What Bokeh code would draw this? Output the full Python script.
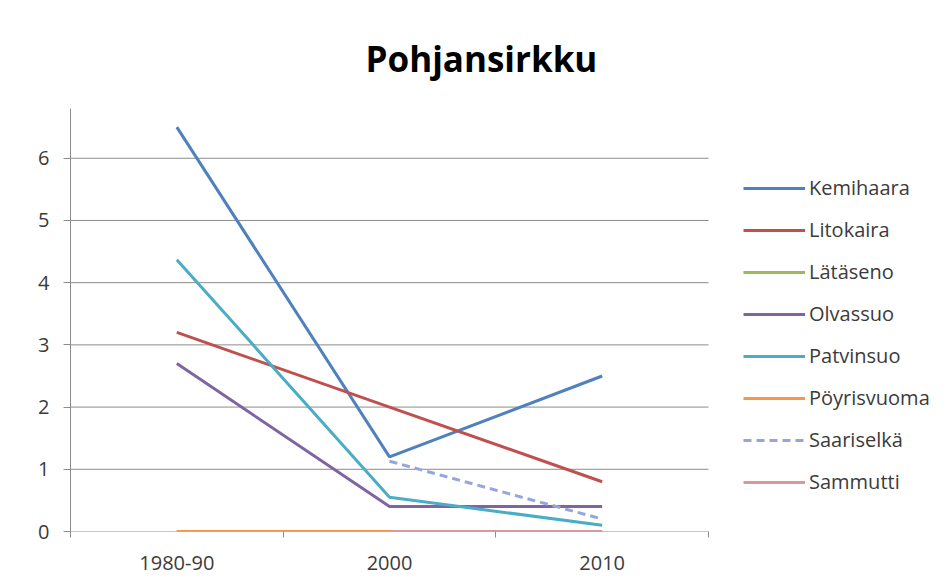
import math
from bokeh.plotting import figure
from bokeh.models import FixedTicker, Legend, LegendItem, Range1d
from bokeh.embed import file_html
from bokeh.resources import INLINE

categories = ["1980-90", "2000", "2010"]
series_names = ["Kemihaara", "Litokaira", "Lätäseno", "Olvassuo", "Patvinsuo",
                "Pöyrisvuoma", "Saariselkä", "Sammutti"]
kemihaara = [6.5, 1.2, 2.5]
litokaira = [3.2, 2.0, 0.8]
lataseno = [0.0, 0.0, 0.0]
olvassuo = [2.7, 0.4, 0.4]
patvinsuo = [4.37, 0.55, 0.1]
poyrisvuoma = [0.0, 0.0, 0.0]
saariselka = [float("nan"), 1.13, 0.2]
sammutti = [float("nan"), 0.0, 0.0]
y_ticks = [0, 1, 2, 3, 4, 5, 6]

values = [kemihaara, litokaira, lataseno, olvassuo, patvinsuo, poyrisvuoma, saariselka, sammutti]
colors = ["#4F81BD", "#C0504D", "#9BBB59", "#8064A2", "#4BACC6", "#F79646", "#95A6DC", "#D9999A"]
dashes = ["solid"] * 6 + ["8 5", "solid"]

FONT = "Open Sans"
TXT = "#3b3b3b"
GRID = "#8c8c8c"

W, H = 949, 588
LEFT, TOP, BOTTOM = 70, 108, 57
CAT_PX = 638.0  # pixel width of the category area
n = len(categories)
x_idx = list(range(n))
x_lo = -0.5
x_hi = n - 0.5
frame_w = W - LEFT
x_end = x_lo + (x_hi - x_lo) * frame_w / CAT_PX
boundaries = [x_lo + i for i in range(n + 1)]

p = figure(width=W, height=H, output_backend="svg", toolbar_location=None,
           x_range=Range1d(x_lo, x_end), y_range=Range1d(0, 6.8),
           min_border_left=LEFT, min_border_right=0, min_border_top=TOP, min_border_bottom=BOTTOM)
p.outline_line_color = None
p.background_fill_color = "white"
p.border_fill_color = "white"

p.title.text = "Pohjansirkku"
p.title.text_font = FONT
p.title.text_font_style = "bold"
p.title.text_font_size = "35px"
p.title.text_color = "#000000"
p.title.align = "left"
p.title.offset = 295
p.title.standoff = 54

# gridlines and category axis line limited to category area
p.xgrid.grid_line_color = None
p.ygrid.grid_line_color = None
p.segment(x0=[x_lo] * len(y_ticks), x1=[x_hi] * len(y_ticks), y0=y_ticks, y1=y_ticks,
          line_color=GRID, line_width=1)

# x axis
p.xaxis.ticker = FixedTicker(ticks=x_idx, minor_ticks=boundaries)
p.xaxis.major_label_overrides = {i: c for i, c in enumerate(categories)}
p.xaxis.major_tick_line_color = None
p.xaxis.minor_tick_line_color = GRID
p.xaxis.minor_tick_in = 0
p.xaxis.minor_tick_out = 6
p.xaxis.axis_line_color = None
p.xaxis.major_label_text_font = FONT
p.xaxis.major_label_text_font_size = "20px"
p.xaxis.major_label_text_color = TXT
p.xaxis.major_label_standoff = 18

# y axis
p.yaxis.ticker = FixedTicker(ticks=y_ticks, minor_ticks=[])
p.yaxis.axis_line_color = GRID
p.yaxis.major_tick_line_color = GRID
p.yaxis.major_tick_in = 0
p.yaxis.major_tick_out = 7
p.yaxis.minor_tick_line_color = None
p.yaxis.major_label_text_font = FONT
p.yaxis.major_label_text_font_size = "20px"
p.yaxis.major_label_text_color = TXT
p.yaxis.major_label_standoff = 14

items = []
for name, vals, col, dash in zip(series_names, values, colors, dashes):
    r = p.line(x_idx, vals, line_color=col, line_width=3, line_dash=dash)
    items.append(LegendItem(label=name, renderers=[r]))

legend = Legend(items=items, location=(673, 36), orientation="vertical",
                glyph_width=62, glyph_height=26, label_height=26, spacing=15,
                label_standoff=4, padding=0, margin=0,
                border_line_color=None, background_fill_alpha=0,
                label_text_font=FONT, label_text_font_size="20px", label_text_color=TXT)
p.add_layout(legend, "center")

open("out.html", "w").write(file_html(p, INLINE))
